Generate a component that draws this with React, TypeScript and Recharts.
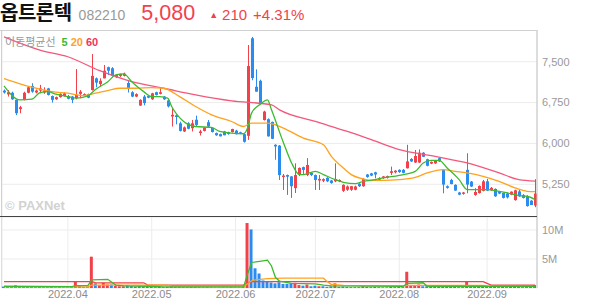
import { Bar, CartesianGrid, Cell, ComposedChart, Line, XAxis, YAxis } from "recharts";

const UP = "#f2414b";
const DOWN = "#2b8cf0";
const MA5_COLOR = "#3cba2e";
const MA20_COLOR = "#ffa21e";
const MA60_COLOR = "#f3587b";
const GRID = "#ececec";
const LABEL = "#999999";

// trading days per month, 2022
const marDays = [10, 11, 14, 15, 16, 17, 18, 21, 22, 23, 24, 25, 28, 29, 30, 31];
const aprDays = [1, 4, 5, 6, 7, 8, 11, 12, 13, 14, 15, 18, 19, 20, 21, 22, 25, 26, 27, 28, 29];
const mayDays = [2, 3, 4, 6, 9, 10, 11, 12, 13, 16, 17, 18, 19, 20, 23, 24, 25, 26, 27, 30, 31];
const junDays = [2, 3, 7, 8, 9, 10, 13, 14, 15, 16, 17, 20, 21, 22, 23, 24, 27, 28, 29, 30];
const julDays = [1, 4, 5, 6, 7, 8, 11, 12, 13, 14, 15, 18, 19, 20, 21, 22, 25, 26, 27, 28, 29];
const augDays = [1, 2, 3, 4, 5, 8, 9, 10, 11, 12, 16, 17, 18, 19, 22, 23, 24, 25, 26, 29, 30, 31];
const sepDays = [1, 2, 5, 6, 7, 8, 13, 14, 15, 16, 19, 20, 21];

const monthTicks = ["2022.04.01", "2022.05.02", "2022.06.02", "2022.07.01", "2022.08.01", "2022.09.01"];
const priceTicks = [5250, 6000, 6750, 7500];
const volumeTicks = [5, 10];

// [open, high, low, close]
const ohlc: number[][] = [
  // March
  [6970, 6990, 6915, 6935], [6900, 6980, 6860, 6940], [6930, 6950, 6800, 6810], [6800, 6810, 6520, 6555],
  [6630, 6690, 6555, 6665], [6800, 6950, 6790, 6930], [6930, 7040, 6920, 7030], [7055, 7105, 6930, 6950],
  [6935, 6990, 6920, 6970], [6970, 7075, 6920, 7010], [6935, 7030, 6910, 6970], [7010, 7020, 6880, 6890],
  [6870, 6880, 6750, 6800], [6810, 6860, 6800, 6850], [6850, 6920, 6840, 6910], [6870, 6940, 6860, 6920],
  // April
  [6870, 6890, 6810, 6820], [6860, 6870, 6740, 6800], [6830, 7365, 6810, 6890], [6910, 6980, 6830, 6950],
  [6880, 6920, 6870, 6905], [6905, 6915, 6830, 6840], [6980, 7640, 6970, 7240], [7195, 7210, 7030, 7115],
  [7090, 7195, 7040, 7150], [7195, 7440, 7195, 7335], [7400, 7410, 7255, 7335], [7380, 7400, 7230, 7240],
  [7215, 7270, 7200, 7255], [7240, 7280, 7220, 7275], [7240, 7300, 7230, 7280], [7110, 7165, 6935, 7010],
  [6940, 6960, 6850, 6860], [6860, 6920, 6850, 6905], [6695, 6810, 6690, 6800], [6860, 6890, 6700, 6740],
  [6870, 6880, 6830, 6840],
  // May
  [6810, 6930, 6800, 6920], [6940, 6950, 6880, 6890], [6910, 7020, 6900, 6940], [6860, 6870, 6800, 6810],
  [6790, 6800, 6660, 6680], [6495, 6645, 6310, 6525], [6515, 6530, 6350, 6485], [6370, 6400, 6220, 6230],
  [6220, 6310, 6210, 6295], [6370, 6390, 6260, 6270], [6280, 6430, 6220, 6370], [6435, 6510, 6310, 6340],
  [6190, 6250, 6145, 6220], [6230, 6300, 6220, 6290], [6390, 6430, 6290, 6310], [6285, 6290, 6200, 6210],
  [6190, 6200, 6140, 6150], [6170, 6180, 6130, 6130], [6220, 6230, 6150, 6150], [6205, 6215, 6160, 6175],
  [6210, 6270, 6200, 6265],
  // June
  [6235, 6250, 6165, 6170], [6205, 6215, 6170, 6180], [6170, 6180, 6015, 6030], [6140, 7806, 6065, 7420],
  [7930, 7955, 7160, 7200], [7040, 7360, 6950, 6950], [7150, 7170, 6720, 6725], [6430, 6600, 6420, 6585],
  [6445, 6460, 6125, 6130], [6395, 6400, 6080, 6085], [5975, 5985, 5700, 5945], [5960, 5970, 5330, 5420],
  [5385, 5440, 5145, 5410], [5420, 5430, 5055, 5390], [5395, 5400, 5000, 5215], [5180, 5635, 5090, 5420],
  [5420, 5560, 5400, 5550], [5565, 5575, 5440, 5515], [5420, 5730, 5400, 5605], [5460, 5470, 5400, 5420],
  // July
  [5420, 5430, 5145, 5330], [5320, 5420, 5145, 5350], [5315, 5360, 5290, 5345], [5370, 5380, 5290, 5305],
  [5320, 5330, 5260, 5275], [5305, 5635, 5290, 5345], [5305, 5340, 5290, 5330], [5130, 5250, 5110, 5240],
  [5150, 5230, 5130, 5210], [5150, 5220, 5130, 5215], [5150, 5225, 5140, 5210], [5260, 5270, 5200, 5215],
  [5215, 5360, 5205, 5350], [5430, 5440, 5370, 5385], [5450, 5460, 5400, 5410], [5470, 5480, 5360, 5430],
  [5335, 5380, 5320, 5365], [5365, 5400, 5350, 5395], [5370, 5410, 5355, 5400], [5460, 5575, 5420, 5490],
  [5470, 5510, 5450, 5500],
  // August
  [5515, 5525, 5460, 5475], [5515, 5530, 5450, 5460], [5545, 5975, 5540, 5670], [5715, 5730, 5660, 5670],
  [5650, 5880, 5640, 5770], [5650, 5890, 5640, 5830], [5830, 5840, 5750, 5755], [5710, 5720, 5580, 5590],
  [5630, 5670, 5620, 5660], [5635, 5690, 5625, 5680], [5730, 5740, 5660, 5670], [5515, 5530, 5085, 5245],
  [5215, 5230, 5170, 5185], [5330, 5350, 5250, 5255], [5240, 5250, 5130, 5135], [5100, 5110, 5050, 5060],
  [5075, 5110, 5060, 5100], [5515, 5820, 5085, 5245], [5300, 5310, 5200, 5210], [5055, 5180, 5040, 5110],
  [5090, 5230, 5080, 5220], [5130, 5330, 5120, 5305],
  // September
  [5305, 5350, 5125, 5135], [5140, 5200, 5130, 5185], [5165, 5175, 5020, 5030], [5120, 5130, 5070, 5080],
  [5090, 5100, 4990, 5000], [5080, 5100, 4990, 5010], [5060, 5120, 5050, 5115], [4960, 5150, 4950, 5140],
  [5120, 5150, 5020, 5030], [5055, 5070, 4990, 5000], [5030, 5050, 4840, 4850], [4950, 4960, 4870, 4870],
  [4860, 5345, 4830, 5080],
];

// volume, millions of shares
const volumes = [
  0.25, 0.2, 0.3, 0.45, 0.25, 0.3, 0.3, 0.25, 0.15, 0.2, 0.15, 0.15, 0.2, 0.12, 0.15, 0.12,
  0.12, 0.15, 1.1, 0.35, 0.15, 0.15, 5.4, 0.8, 0.5, 0.9, 0.6, 0.6, 0.35, 0.3, 0.3, 0.5, 0.35, 0.25, 0.35, 0.3, 0.2,
  0.2, 0.15, 0.2, 0.15, 0.2, 0.35, 0.2, 0.25, 0.15, 0.15, 0.2, 0.2, 0.15, 0.12, 0.15, 0.12, 0.1, 0.1, 0.12, 0.1, 0.15,
  0.12, 0.1, 0.25, 11.2, 10.1, 3.4, 2.5, 1.3, 1.1, 0.95, 0.8, 1.0, 0.7, 0.7, 0.8, 0.9, 0.5, 0.4, 0.6, 0.3,
  0.4, 0.3, 0.3, 0.2, 0.3, 0.8, 0.2, 0.25, 0.2, 0.15, 0.15, 0.15, 0.3, 0.2, 0.15, 0.2, 0.15, 0.12, 0.12, 0.25, 0.15,
  0.2, 0.15, 2.8, 0.4, 0.5, 0.6, 0.3, 0.3, 0.2, 0.2, 0.2, 0.5, 0.2, 0.2, 0.2, 0.15, 0.15, 1.1, 0.3, 0.2, 0.25, 0.3,
  0.3, 0.2, 0.25, 0.15, 0.2, 0.15, 0.2, 0.25, 0.2, 0.15, 0.25, 0.2, 0.5,
];

// moving averages: [day index, value]
const ma5Points = [
  [0, 7056], [4, 6800], [7, 6812], [9, 6933], [11, 6951], [13, 6904], [16, 6860], [18, 6831], [21, 6873],
  [23, 6995], [26, 7134], [28, 7257], [30, 7275], [32, 7134], [35, 6951], [37, 6860], [39, 6860], [41, 6831],
  [42, 6677], [45, 6403], [48, 6311], [52, 6293], [54, 6220], [57, 6190], [60, 6178], [61, 6282], [62, 6556],
  [64, 6708], [66, 6800], [67, 6617], [70, 6013], [72, 5647], [74, 5428], [75, 5428], [78, 5488], [80, 5428],
  [83, 5336], [85, 5287], [88, 5263], [90, 5305], [93, 5336], [95, 5367], [99, 5415], [103, 5488], [105, 5642],
  [107, 5689], [109, 5689], [111, 5550], [114, 5336], [116, 5153], [119, 5153], [121, 5153], [124, 5122],
  [126, 5093], [129, 5044], [131, 5031], [133, 4971],
];
const ma20Points = [
  [0, 7190], [4, 7095], [7, 7032], [12, 6951], [16, 6922], [20, 6878], [23, 6922], [26, 6970], [29, 7013],
  [33, 7013], [37, 7024], [40, 7013], [44, 6860], [48, 6677], [52, 6525], [57, 6403], [60, 6311], [62, 6373],
  [66, 6373], [68, 6342], [70, 6282], [75, 6099], [80, 5976], [82, 5762], [85, 5550], [87, 5428], [90, 5349],
  [92, 5324], [95, 5324], [99, 5336], [103, 5378], [106, 5459], [110, 5519], [113, 5488], [116, 5459],
  [120, 5397], [124, 5305], [128, 5184], [131, 5122], [133, 5115],
];
const ma60Points = [
  [0, 7957], [9, 7714], [16, 7591], [24, 7335], [32, 7134], [40, 7013], [48, 6891], [57, 6781], [67, 6708],
  [69, 6617], [78, 6403], [86, 6220], [92, 6068], [99, 5885], [108, 5762], [116, 5642], [124, 5459],
  [129, 5336], [133, 5309],
];
const vma5Points = [
  [0, 0.3], [17, 0.25], [18, 0.4], [21, 0.4], [22, 1.4], [26, 1.5], [27, 1.0], [28, 0.5], [30, 0.35], [36, 0.3],
  [40, 0.2], [60, 0.2], [61, 2.4], [62, 4.4], [64, 4.6], [66, 4.8], [67, 3.8], [68, 1.8], [69, 1.2], [72, 0.8],
  [78, 0.7], [80, 0.5], [82, 0.35], [100, 0.3], [101, 0.8], [105, 0.9], [106, 0.3], [133, 0.3],
];
const vma20Points = [
  [0, 0.2], [21, 0.2], [22, 0.5], [41, 0.5], [42, 0.25], [60, 0.2], [61, 0.75], [62, 1.25], [63, 1.4], [66, 1.6],
  [70, 1.7], [80, 1.7], [81, 1.1], [82, 0.6], [85, 0.45], [100, 0.35], [101, 0.45], [120, 0.45], [121, 0.3],
  [133, 0.25],
];
const vma60Points = [
  [0, 1.1], [22, 1.1], [23, 0.9], [35, 0.9], [36, 0.5], [60, 0.5], [61, 0.9], [62, 1.1], [120, 1.1], [121, 0.8],
  [122, 0.5], [133, 0.5],
];

const pad = (n: number) => String(n).padStart(2, "0");
const dates = [
  ...marDays.map((d) => `2022.03.${pad(d)}`),
  ...aprDays.map((d) => `2022.04.${pad(d)}`),
  ...mayDays.map((d) => `2022.05.${pad(d)}`),
  ...junDays.map((d) => `2022.06.${pad(d)}`),
  ...julDays.map((d) => `2022.07.${pad(d)}`),
  ...augDays.map((d) => `2022.08.${pad(d)}`),
  ...sepDays.map((d) => `2022.09.${pad(d)}`),
];

function pointsAt(points: number[][]) {
  const out: (number | null)[] = dates.map(() => null);
  points.forEach(([i, v]) => (out[i] = v));
  return out;
}

const ma5 = pointsAt(ma5Points);
const ma20 = pointsAt(ma20Points);
const ma60 = pointsAt(ma60Points);
const vma5 = pointsAt(vma5Points);
const vma20 = pointsAt(vma20Points);
const vma60 = pointsAt(vma60Points);

const rows = dates.map((date, i) => {
  const [o, h, l, c] = ohlc[i];
  const prev = i > 0 ? ohlc[i - 1][3] : o;
  return {
    date,
    o, h, l, c,
    range: [l, h],
    up: c >= o,
    volUp: c >= prev,
    v: volumes[i],
    ma5: ma5[i], ma20: ma20[i], ma60: ma60[i],
    vma5: vma5[i], vma20: vma20[i], vma60: vma60[i],
  };
});

function Candle(props: any) {
  const { x, y, width, height, payload } = props;
  const top = Math.min(y, y + height);
  const span = Math.abs(height);
  const k = payload.h > payload.l ? span / (payload.h - payload.l) : 0;
  const cx = Math.round(x + width / 2) + 0.5;
  const color = payload.up ? UP : DOWN;
  const bodyTop = top + (payload.h - Math.max(payload.o, payload.c)) * k;
  const bodyH = Math.max(Math.abs(payload.o - payload.c) * k, 1.2);
  return (
    <g>
      <line x1={cx} x2={cx} y1={top} y2={top + span} stroke={color} strokeWidth={1} />
      <rect x={cx - 1.5} y={bodyTop} width={3} height={bodyH} fill={color} />
    </g>
  );
}

const fmtPrice = (v: number) => v.toLocaleString("en-US");

export default function App() {
  const font = "'Liberation Sans', Arial, sans-serif";
  const head = (extra: any) => ({ display: "inline-block", height: 20, lineHeight: "20px", ...extra });
  return (
    <div style={{ position: "relative", width: 594, height: 304, background: "#fff", fontFamily: font, overflow: "hidden" }}>
      <style>{"body{margin:0}"}</style>

      {/* header */}
      <div style={{ position: "absolute", left: 0, top: 2, height: 22, whiteSpace: "nowrap", display: "flex", alignItems: "baseline" }}>
        <span style={head({ fontFamily: "'Noto Sans CJK KR', sans-serif", fontWeight: 700, fontSize: 20, color: "#111", letterSpacing: -0.5 })}>옵트론텍</span>
        <span style={head({ fontSize: 14, color: "#999", marginLeft: 7 })}>082210</span>
        <span style={head({ fontSize: 21.5, color: UP, marginLeft: 16 })}>5,080</span>
        <span style={head({ fontSize: 9, color: UP, marginLeft: 14, position: "relative", top: -2 })}>▲</span>
        <span style={head({ fontSize: 15, color: UP, marginLeft: 4 })}>210</span>
        <span style={head({ fontSize: 15, color: UP, marginLeft: 6 })}>+4.31%</span>
      </div>

      {/* price panel */}
      <div style={{ position: "absolute", left: 0, top: 30 }}>
        <ComposedChart width={594} height={187} data={rows} margin={{ top: 0, right: 0, bottom: 0, left: 2 }} barCategoryGap={0}>
          <CartesianGrid stroke={GRID} />
          <XAxis dataKey="date" ticks={monthTicks} interval={0} height={0} tick={false} axisLine={false} tickLine={false} />
          <YAxis
            orientation="right"
            width={57}
            domain={[4650, 8082]}
            ticks={priceTicks}
            tickFormatter={fmtPrice}
            tick={{ fill: LABEL, fontSize: 11 }}
            tickLine={false}
            tickSize={0}
            tickMargin={5}
            axisLine={{ stroke: "#c4c4c4" }}
          />
          <Line dataKey="ma60" stroke={MA60_COLOR} strokeWidth={1.3} dot={false} type="monotone" connectNulls isAnimationActive={false} />
          <Line dataKey="ma20" stroke={MA20_COLOR} strokeWidth={1.3} dot={false} type="monotone" connectNulls isAnimationActive={false} />
          <Bar dataKey="range" shape={<Candle />} isAnimationActive={false} />
          <Line dataKey="ma5" stroke={MA5_COLOR} strokeWidth={1.3} dot={false} type="monotone" connectNulls isAnimationActive={false} />
        </ComposedChart>
      </div>

      {/* frame lines */}
      <div style={{ position: "absolute", left: 0, top: 30, width: 537, height: 1, background: "#d0d0d0" }} />
      <div style={{ position: "absolute", left: 1, top: 30, width: 1, height: 258, background: "#d0d0d0" }} />
      <div style={{ position: "absolute", left: 0, top: 216, width: 537, height: 1, background: "#444" }} />

      {/* legend */}
      <div style={{ position: "absolute", left: 5, top: 33, fontSize: 11, whiteSpace: "nowrap" }}>
        <span style={{ fontFamily: "'Noto Sans CJK KR', sans-serif", color: "#999" }}>이동평균선</span>
        <span style={{ color: MA5_COLOR, marginLeft: 6, fontWeight: 700 }}>5</span>
        <span style={{ color: MA20_COLOR, marginLeft: 3, fontWeight: 700 }}>20</span>
        <span style={{ color: "#f0345a", marginLeft: 3, fontWeight: 700 }}>60</span>
      </div>

      {/* watermark */}
      <div style={{ position: "absolute", left: 5, top: 198, fontSize: 13, fontWeight: 700, color: "#d2d2d2", whiteSpace: "nowrap" }}>
        © PAXNet
      </div>

      {/* volume panel */}
      <div style={{ position: "absolute", left: 0, top: 217 }}>
        <ComposedChart width={594} height={87} data={rows} margin={{ top: 0, right: 0, bottom: 0, left: 2 }} barCategoryGap={0}>
          <CartesianGrid stroke={GRID} />
          <XAxis
            dataKey="date"
            ticks={monthTicks}
            interval={0}
            height={16}
            tickFormatter={(d: string) => d.slice(0, 7)}
            tick={{ fill: "#8c8c8c", fontSize: 11 }}
            tickLine={false}
            tickSize={0}
            tickMargin={2}
            axisLine={false}
          />
          <YAxis
            orientation="right"
            width={57}
            domain={[0, 12.24]}
            ticks={volumeTicks}
            tickFormatter={(v: number) => `${v}M`}
            tick={{ fill: LABEL, fontSize: 11 }}
            tickLine={false}
            tickSize={0}
            tickMargin={5}
            axisLine={{ stroke: "#c4c4c4" }}
          />
          <Bar dataKey="v" barSize={3} isAnimationActive={false}>
            {rows.map((r) => (
              <Cell key={r.date} fill={r.volUp ? UP : DOWN} />
            ))}
          </Bar>
          <Line dataKey="vma60" stroke={UP} strokeWidth={1.3} dot={false} type="linear" connectNulls isAnimationActive={false} />
          <Line dataKey="vma20" stroke={MA20_COLOR} strokeWidth={1.3} dot={false} type="linear" connectNulls isAnimationActive={false} />
          <Line dataKey="vma5" stroke={MA5_COLOR} strokeWidth={1.3} dot={false} type="linear" connectNulls isAnimationActive={false} />
        </ComposedChart>
      </div>
    </div>
  );
}
